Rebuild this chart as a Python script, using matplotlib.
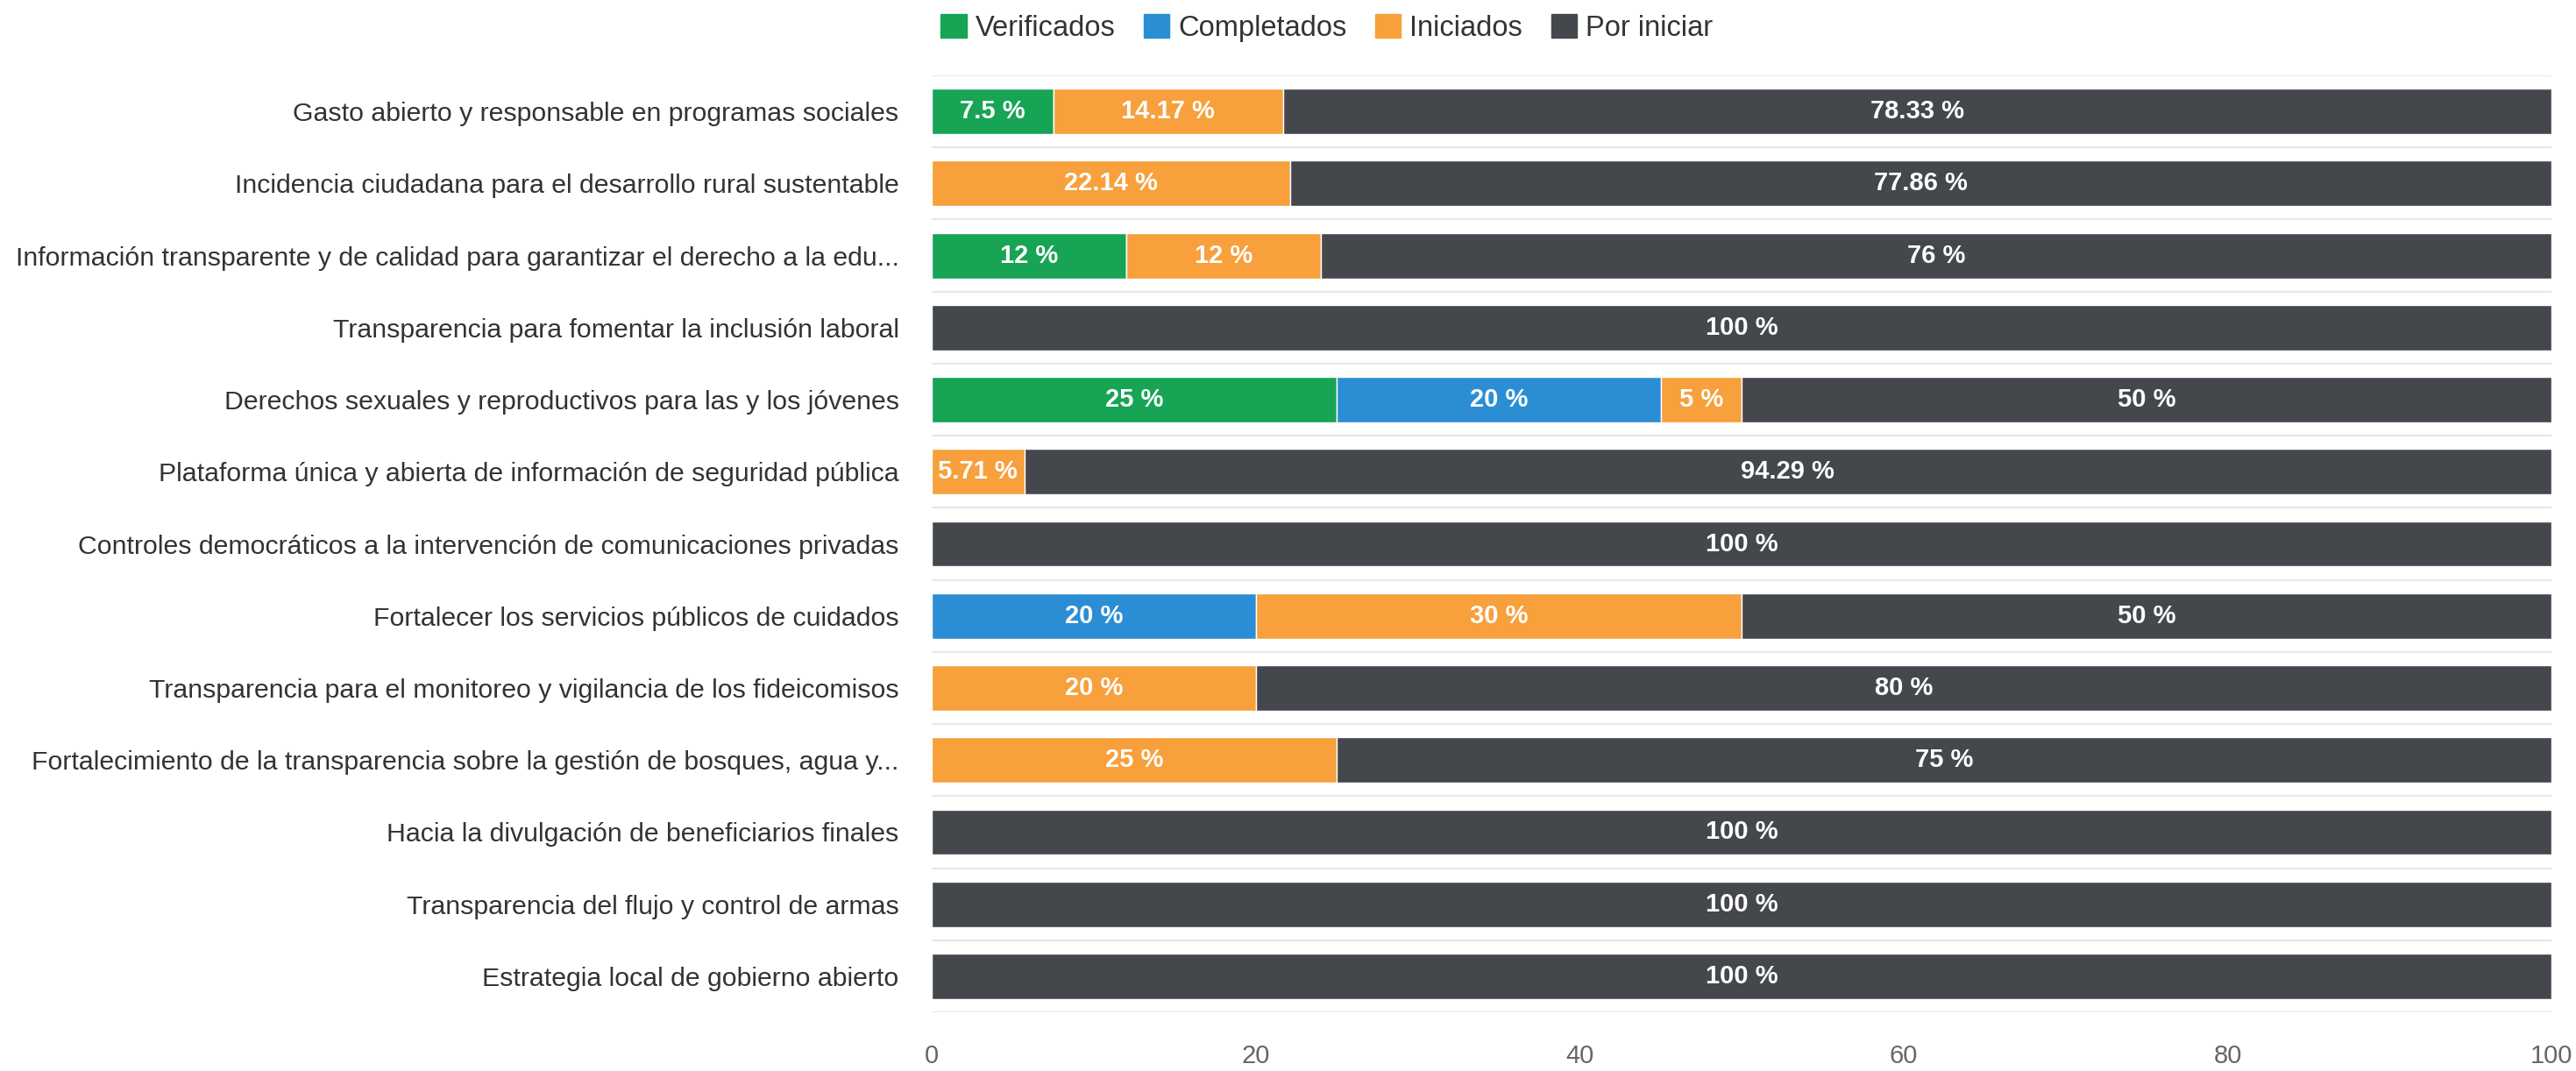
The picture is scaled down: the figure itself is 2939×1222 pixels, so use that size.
import numpy as np
import matplotlib
matplotlib.use("Agg")
from matplotlib import pyplot as plt
from matplotlib.patches import Patch

plt.rcParams["font.family"] = ["Liberation Sans", "DejaVu Sans"]

categories = [
    "Gasto abierto y responsable en programas sociales",
    "Incidencia ciudadana para el desarrollo rural sustentable",
    "Información transparente y de calidad para garantizar el derecho a la edu...",
    "Transparencia para fomentar la inclusión laboral",
    "Derechos sexuales y reproductivos para las y los jóvenes",
    "Plataforma única y abierta de información de seguridad pública",
    "Controles democráticos a la intervención de comunicaciones privadas",
    "Fortalecer los servicios públicos de cuidados",
    "Transparencia para el monitoreo y vigilancia de los fideicomisos",
    "Fortalecimiento de la transparencia sobre la gestión de bosques, agua y...",
    "Hacia la divulgación de beneficiarios finales",
    "Transparencia del flujo y control de armas",
    "Estrategia local de gobierno abierto",
]

verificados = [7.5, 0, 12, 0, 25, 0, 0, 0, 0, 0, 0, 0, 0]
completados = [0, 0, 0, 0, 20, 0, 0, 20, 0, 0, 0, 0, 0]
iniciados = [14.17, 22.14, 12, 0, 5, 5.71, 0, 30, 20, 25, 0, 0, 0]
por_iniciar = [78.33, 77.86, 76, 100, 50, 94.29, 100, 50, 80, 75, 100, 100, 100]

series = [
    ("Verificados", verificados, "#17a455"),
    ("Completados", completados, "#2b8ed4"),
    ("Iniciados", iniciados, "#f7a03c"),
    ("Por iniciar", por_iniciar, "#44474c"),
]

x_ticks = [0, 20, 40, 60, 80, 100]

fig = plt.figure(figsize=(29.39, 12.22), dpi=100)
ax = fig.add_axes([0.3617, 0.0548, 0.6288, 0.8748])

y = np.arange(len(categories))
left = np.zeros(len(categories))
handles = []
for name, vals, color in series:
    vals = np.array(vals, dtype=float)
    bars = ax.barh(y, vals, left=left, height=0.63, color=color,
                   edgecolor="white", linewidth=1)
    labels = [f"{v:g} %" if v > 0 else "" for v in vals]
    ax.bar_label(bars, labels=labels, label_type="center", color="white",
                 fontsize=21, fontweight="bold")
    left += vals
    handles.append(Patch(facecolor=color, edgecolor=color, label=name))

ax.set_xlim(0, 100)
ax.set_ylim(len(categories) - 0.5, -0.5)
ax.set_yticks(y)
ax.set_yticklabels(categories, fontsize=21.8, color="#333333")
ax.set_xticks(x_ticks)
ax.set_xticklabels([str(t) for t in x_ticks], fontsize=21, color="#666666")
ax.tick_params(axis="y", length=0, pad=27)
ax.tick_params(axis="x", length=0, pad=26)

# light separators between categories
for b in np.arange(-0.5, len(categories), 1):
    ax.axhline(b, color="#e6e6e6", linewidth=1.5, zorder=0)

for s in ax.spines.values():
    s.set_visible(False)

fig.legend(handles=handles, loc="center", bbox_to_anchor=(0.515, 0.974),
           ncol=4, frameon=False, fontsize=23.5, handlelength=0.9,
           handleheight=0.9, handletextpad=0.3, columnspacing=1.0,
           labelcolor="#333333")

fig.savefig("out.png", dpi=100)
